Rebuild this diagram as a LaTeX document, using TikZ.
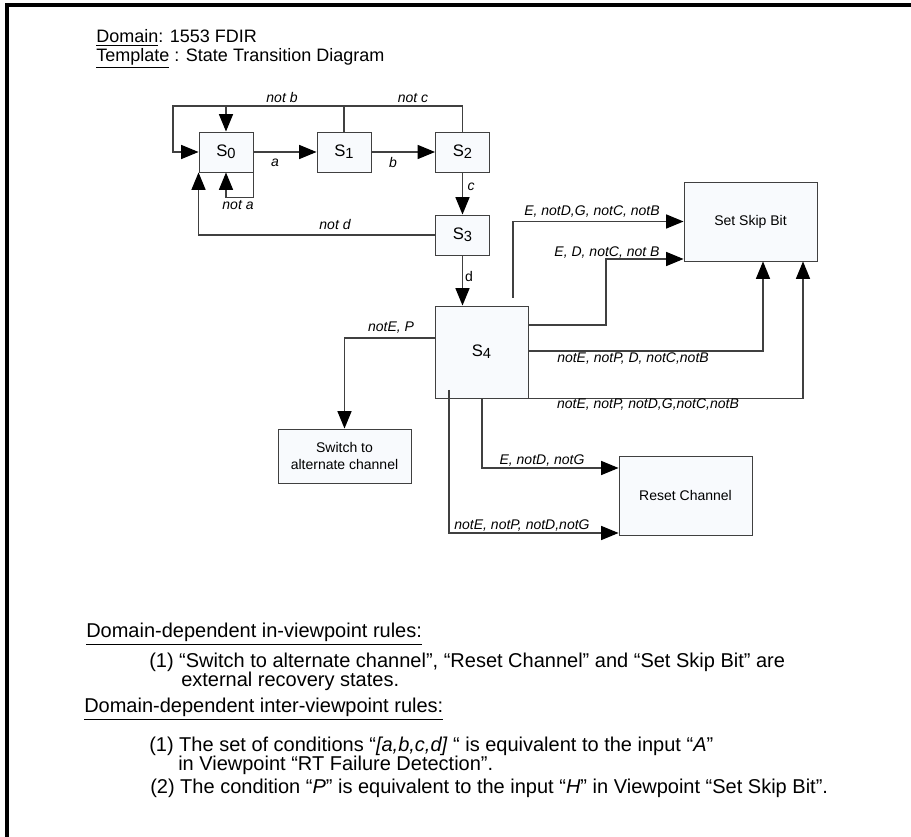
\documentclass[tikz,border=0pt]{standalone}
\usepackage{fontspec}
\setmainfont{Liberation Sans}
\usetikzlibrary{arrows.meta}
\newcommand{\sname}[1]{S\raisebox{-1.5pt}{\fontsize{11}{11}\selectfont #1}}

\begin{document}
\begin{tikzpicture}[
        x=0.75pt, y=-0.75pt,
        statebox/.style={rectangle, draw=black!75, fill={rgb,255:red,248;green,250;blue,253}, line width=0.7pt, inner sep=0pt, font=\fontsize{12.5}{14}\selectfont},
        small/.style={statebox, minimum width=40.5pt, minimum height=30pt},
        extbox/.style={statebox, minimum width=99.75pt, minimum height=59.25pt, align=center, font=\fontsize{10.5}{13}\selectfont},
        lab/.style={font=\fontsize{10.5}{12}\selectfont\itshape, inner sep=1pt},
        arr/.style={-{Triangle[length=13pt, width=10.5pt, color=black]}, draw=black!75, line width=0.9pt},
        rule/.style={anchor=base west, inner sep=0pt, font=\fontsize{15}{17}\selectfont}
    ]
    \useasboundingbox (0,0) rectangle (911,837);
    \draw[line width=2.3pt] (911,5) -- (7,5) -- (7,837);

    % Header
    \node[anchor=base west, inner sep=0pt, font=\fontsize{13.5}{16}\selectfont] (dom) at (96,43) {\underline{Domain}: 1553 FDIR};
    \node[anchor=base west, inner sep=0pt, font=\fontsize{13.5}{16}\selectfont] (tpl) at (96,62) {\underline{Template} : State Transition Diagram};

    % States
    \node[small] (S0) at (226,152) {\sname{0}};
    \node[small] (S1) at (344,152) {\sname{1}};
    \node[small] (S2) at (462.5,152) {\sname{2}};
    \node[small] (S3) at (462.5,235) {\sname{3}};
    \node[statebox, minimum width=69.75pt, minimum height=69pt] (S4) at (481.5,352) {\sname{4}};

    % Recovery states
    \node[extbox] (SSB) at (750.5,221.5) {Set Skip Bit};
    \node[extbox, minimum height=40.5pt] (SW) at (344.5,456) {Switch to\\alternate channel};
    \node[extbox] (RC) at (685.5,495.5) {Reset Channel};

    % Transitions S0 to S4
    \draw[arr] (S0) -- (S1);
    \draw[arr] (S1) -- (S2);
    \draw[arr] (S2) -- (S3);
    \draw[arr] (S3.south) -- (S3.south |- S4.north);
    \draw[arr] (S1.north) -- ++(0,-26) -| (S0.north);
    \draw[arr] (S2.north) |- (173,106) |- (S0.west);
    \draw[arr] (S0.south east) -- ++(0,25) -| (S0.south);
    \draw[arr] (S3.west) -| (S0.south west);
    \node[lab] (la) at (275,163) {a};
    \node[lab] (lb) at (393,163) {b};
    \node[lab] (lc) at (471,187) {c};
    \node[font=\fontsize{10.5}{12}\selectfont, inner sep=1pt] (ld) at (469,277) {d};
    \node[lab] (lnb) at (282,98) {not b};
    \node[lab] (lnc) at (413,98) {not c};
    \node[lab] (lna) at (238,205) {not a};
    \node[lab] (lnd) at (335,225) {not d};

    % Transitions out of S4
    \coordinate (s4top) at (513,298);
    \coordinate (s4in) at (449,390);
    \draw[arr] (s4top) |- (SSB.west);
    \draw[arr] (S4.east |- 0,325) -| (606,259) -- (SSB.west |- 0,259);
    \draw[arr] (S4.east |- 0,351) -| (763,0 |- SSB.south);
    \draw[arr] (S4.south east) -| (803,0 |- SSB.south);
    \draw[arr] (S4.west |- 0,338) -| (SW.north);
    \draw[arr] (482,0 |- S4.south) |- (RC.west |- 0,468);
    \draw[arr] (s4in) |- (RC.west |- 0,533);
    \node[lab] (l1) at (592,212) {E, notD,G, notC, notB};
    \node[lab] (l2) at (607,253) {E, D, notC, not B};
    \node[lab] (l3) at (633,359) {notE, notP, D, notC,notB};
    \node[lab] (l4) at (648,405) {notE, notP, notD,G,notC,notB};
    \node[lab] (l5) at (391,328) {notE, P};
    \node[lab] (l6) at (542,461) {E, notD, notG};
    \node[lab] (l7) at (522,526) {notE, notP, notD,notG};

    % Rules
    \node[rule] (r1) at (86,638) {\underline{Domain-dependent in-viewpoint rules:}};
    \node[rule] (r2) at (149,668) {(1) “Switch to alternate channel”, “Reset Channel” and “Set Skip Bit” are};
    \node[rule] (r3) at (181,687) {external recovery states.};
    \node[rule] (r4) at (84,713) {\underline{Domain-dependent inter-viewpoint rules:}};
    \node[rule] (r5) at (149,751) {(1) The set of conditions “\textit{[a,b,c,d]} “ is equivalent to the input “\textit{A}”};
    \node[rule] (r6) at (178,770) {in Viewpoint “RT Failure Detection”.};
    \node[rule] (r7) at (150,793) {(2) The condition “\textit{P}” is equivalent to the input “\textit{H}” in Viewpoint “Set Skip Bit”.};
\end{tikzpicture}
\end{document}
